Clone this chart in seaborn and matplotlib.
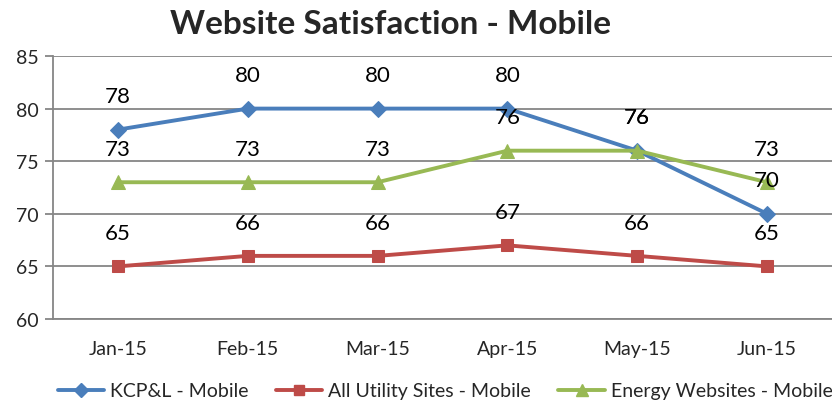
import matplotlib
matplotlib.use("Agg")
import matplotlib.pyplot as plt
import seaborn as sns
import pandas as pd
from matplotlib.lines import Line2D

months = ["Jan-15", "Feb-15", "Mar-15", "Apr-15", "May-15", "Jun-15"]
kcpl = [78, 80, 80, 80, 76, 70]
utility = [65, 66, 66, 67, 66, 65]
energy = [73, 73, 73, 76, 76, 73]
series_names = ["KCP&L - Mobile", "All Utility Sites - Mobile", "Energy Websites - Mobile"]
title = "Website Satisfaction - Mobile"

sns.set_style("white")
plt.rcParams["font.family"] = ["Lato", "DejaVu Sans"]

colors = {"KCP&L - Mobile": "#4A7EBB", "All Utility Sites - Mobile": "#BE4B48",
          "Energy Websites - Mobile": "#98B954"}
markers = {"KCP&L - Mobile": "D", "All Utility Sites - Mobile": "s",
           "Energy Websites - Mobile": "^"}
msizes = {"KCP&L - Mobile": 8, "All Utility Sites - Mobile": 8.5,
          "Energy Websites - Mobile": 10}

rows = []
for name, vals in zip(series_names, [kcpl, utility, energy]):
    for i, (m, v) in enumerate(zip(months, vals)):
        rows.append({"idx": i, "month": m, "value": v, "series": name})
df = pd.DataFrame(rows)

fig = plt.figure(figsize=(8.32, 4.02), dpi=100)
ax = fig.add_axes([53/832, 82/402, 1 - 53/832, (320-57)/402])

ax.set_ylim(60, 85)
ax.set_xlim(-0.5, 5.5)
ax.set_yticks([60, 65, 70, 75, 80, 85])
ax.yaxis.grid(True, color="#868686", linewidth=1.3)
ax.set_axisbelow(True)

for name in series_names:
    sub = df[df.series == name]
    sns.lineplot(data=sub, x="idx", y="value", ax=ax, color=colors[name],
                 marker=markers[name], markersize=msizes[name], linewidth=2.8,
                 markeredgecolor=colors[name], legend=False, zorder=3)
    for _, r in sub.iterrows():
        ax.annotate(f"{r['value']}", (r["idx"], r["value"]), xytext=(0, 24),
                    textcoords="offset points", ha="center", va="center",
                    fontsize=16, color="black", zorder=4)

ax.set_xticks(range(len(months)))
ax.set_xticklabels(months, fontsize=14)
ax.set_xticks([i - 0.5 for i in range(len(months))], minor=True)
ax.tick_params(axis="x", which="major", length=0, pad=15)
ax.tick_params(axis="x", which="minor", length=6, color="#868686", width=1.3, direction="out")
ax.tick_params(axis="y", length=6, color="#868686", width=1.3, labelsize=14, pad=4, left=True)
ax.set_xlabel("")
ax.set_ylabel("")
for s in ["top", "right"]:
    ax.spines[s].set_visible(False)
for s in ["left", "bottom"]:
    ax.spines[s].set_color("#868686")
    ax.spines[s].set_linewidth(1.3)

fig.text(390/832, 1 - 25/402, title, ha="center", va="center", fontsize=24, fontweight="bold")

handles = [Line2D([0], [0], color=colors[n], marker=markers[n], markersize=msizes[n] - 1,
                  linewidth=2.8, markeredgecolor=colors[n]) for n in series_names]
fig.legend(handles, series_names, loc="center", bbox_to_anchor=(0.535, 1 - 392/402),
           ncol=3, frameon=False, fontsize=14, handlelength=2.4, columnspacing=1.4,
           handletextpad=0.3)

fig.savefig("out.png", dpi=100)
